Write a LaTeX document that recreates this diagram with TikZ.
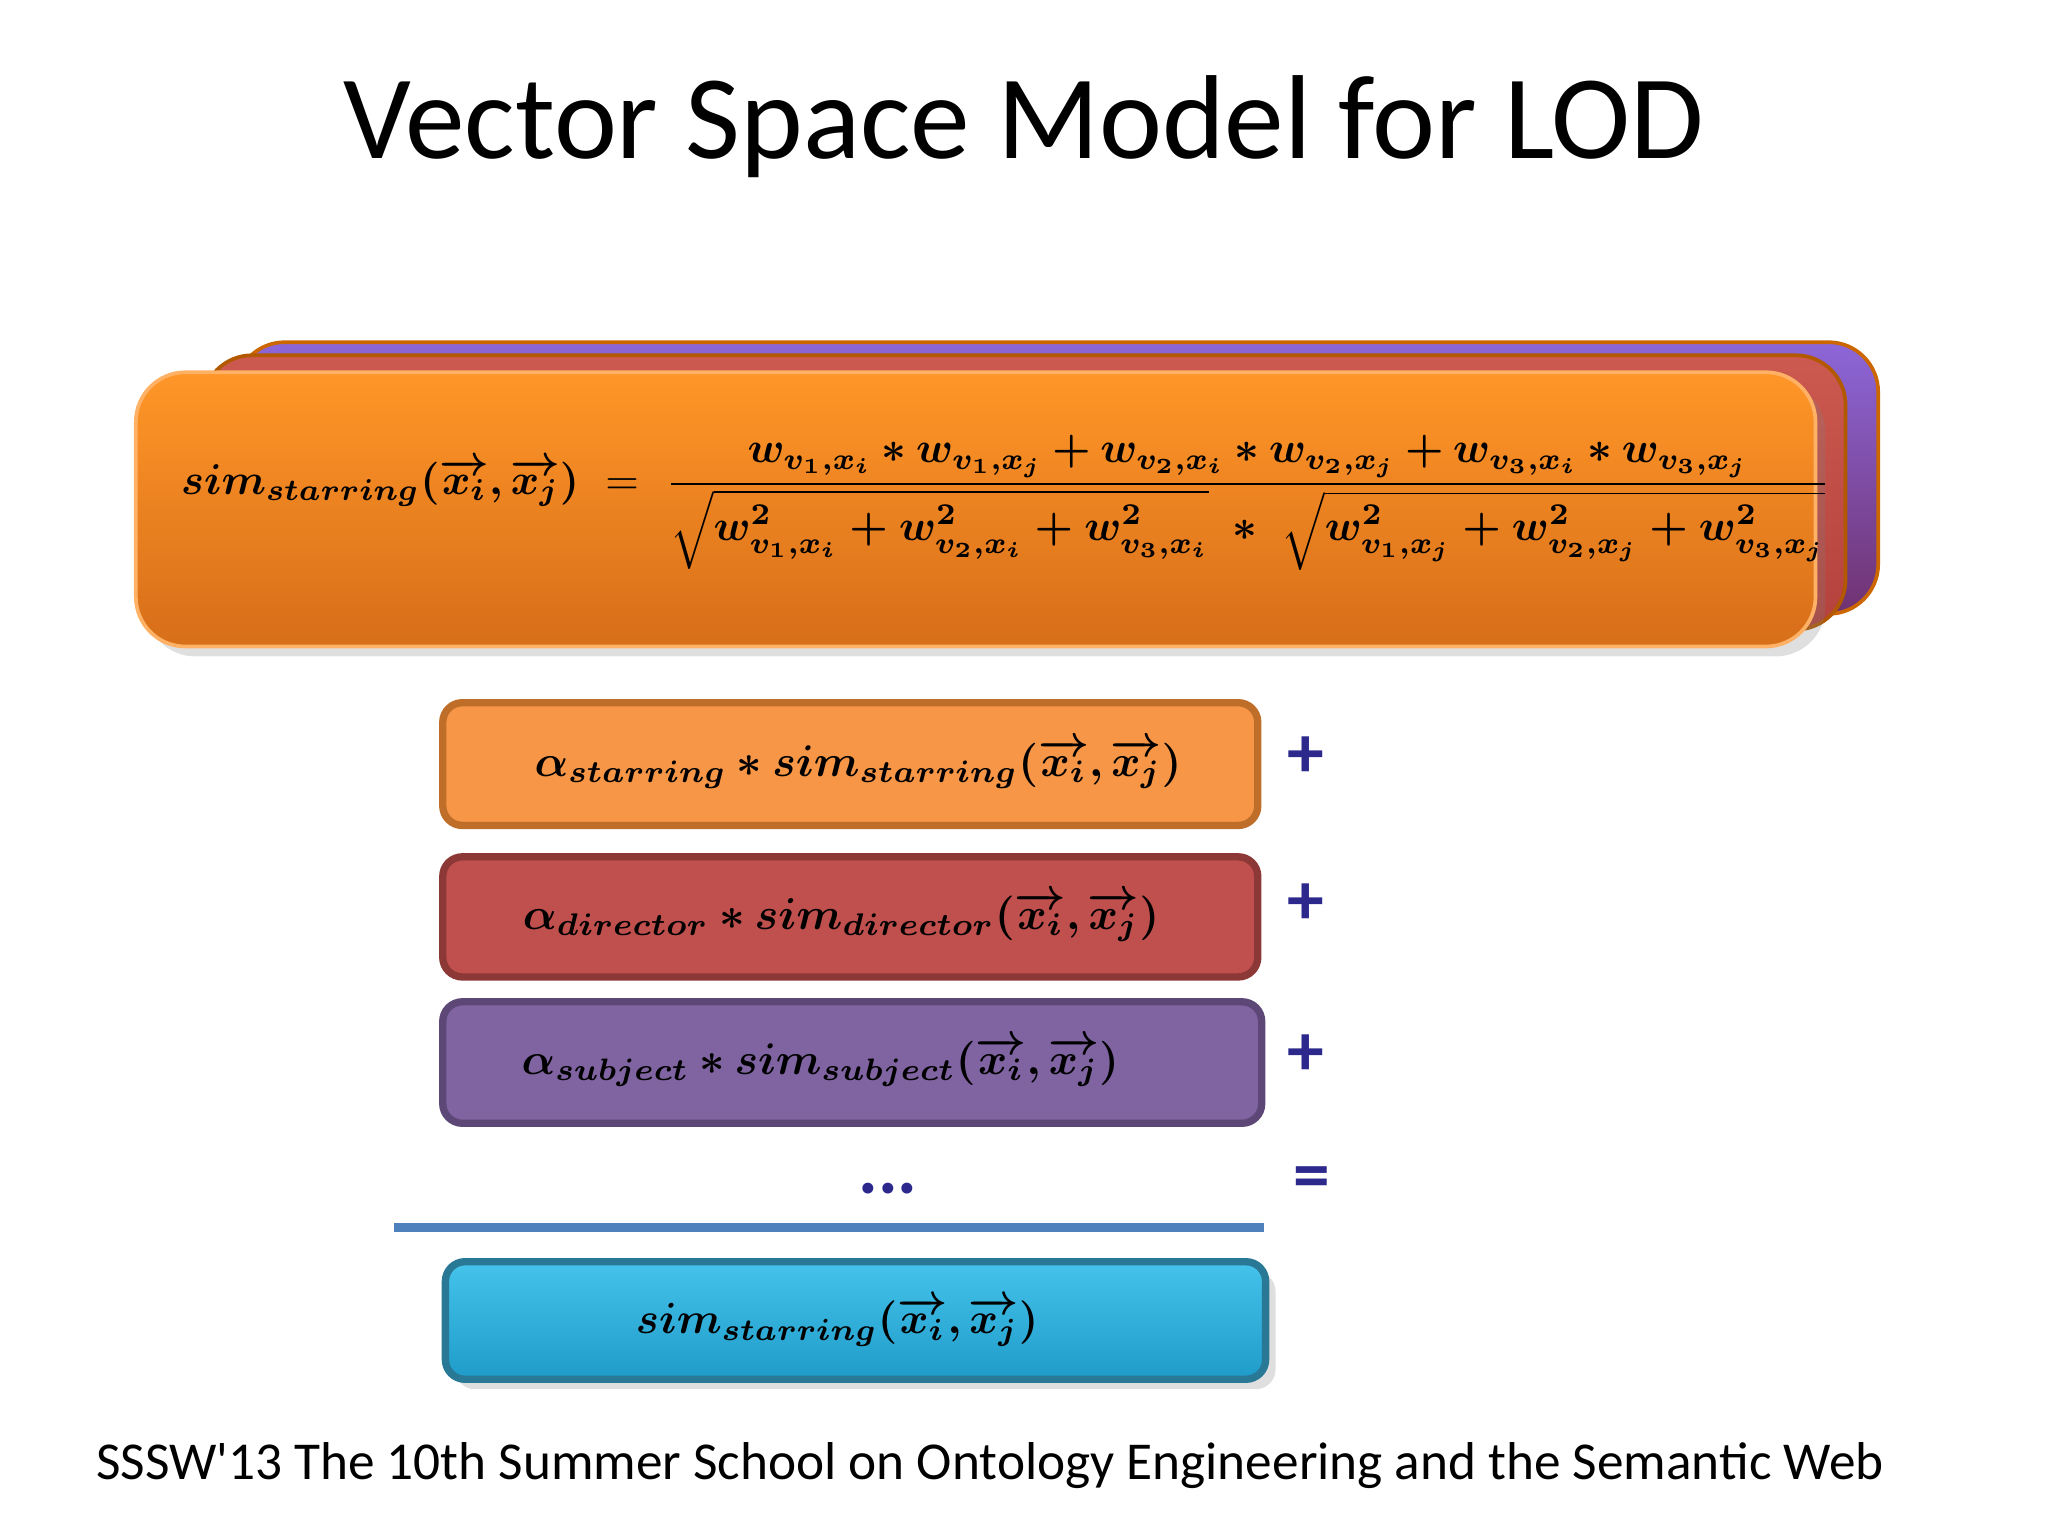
\documentclass[tikz,border=0pt]{standalone}
\usepackage{amsmath,bm}
\usepackage{fontspec}
\newfontfamily\carl{Carlito}
\usetikzlibrary{shadows}
\definecolor{ttl}{RGB}{45,40,140}
\tikzset{
 bigbox/.style={rounded corners=0.38cm,line width=0.8pt},
 smallbox/.style={rounded corners=0.15cm,line width=1.6pt},
 op/.style={text=ttl,font=\carl\bfseries\fontsize{16}{16}\selectfont}
}
\newcommand{\vx}[1]{\overrightarrow{x_{#1}}}
\begin{document}
\begin{tikzpicture}[x=0.01cm,y=-0.01cm]
\useasboundingbox (0,0) rectangle (1568,1176);
\node (title) at (784,97) {\carl\fontsize{26}{26}\selectfont Vector Space Model for LOD};
\draw[bigbox,draw=orange!80!black,top color=violet!50!blue!60!white,bottom color=violet!60!black!80,fill=violet!60] (180,262) rectangle (1438,470);
\shade[bigbox,draw=orange!70!black,top color={rgb,255:red,205;green,90;blue,80},bottom color={rgb,255:red,180;green,65;blue,60}] (155,272) rectangle (1413,482);
\draw[bigbox,draw=orange!60!white,top color={rgb,255:red,255;green,150;blue,40},bottom color={rgb,255:red,215;green,110;blue,25},drop shadow={opacity=0.25}] (104,285) rectangle (1390,495);
\node[anchor=west,inner sep=0pt] (eq) at (138,385) {\resizebox{12.62cm}{!}{$\bm{sim_{starring}(\vx{i},\vx{j})}\ =\ \dfrac{\bm{w_{v_1,x_i}*w_{v_1,x_j}+w_{v_2,x_i}*w_{v_2,x_j}+w_{v_3,x_i}*w_{v_3,x_j}}}{\bm{\sqrt{w^2_{v_1,x_i}+w^2_{v_2,x_i}+w^2_{v_3,x_i}}\ *\ \sqrt{w^2_{v_1,x_j}+w^2_{v_2,x_j}+w^2_{v_3,x_j}}}}$}};
\draw[smallbox,draw={rgb,255:red,190;green,110;blue,40},fill={rgb,255:red,246;green,150;blue,70}] (339,538) rectangle (963,632);
\node (s1) at (657,585) {\resizebox{4.95cm}{!}{$\bm{\alpha_{starring}*sim_{starring}(\vx{i},\vx{j})}$}};
\draw[smallbox,draw={rgb,255:red,140;green,56;blue,54},fill={rgb,255:red,192;green,80;blue,77}] (339,656) rectangle (963,748);
\node (s2) at (644,702) {\resizebox{4.87cm}{!}{$\bm{\alpha_{director}*sim_{director}(\vx{i},\vx{j})}$}};
\draw[smallbox,draw={rgb,255:red,92;green,71;blue,118},fill={rgb,255:red,128;green,100;blue,162}] (339,767) rectangle (966,860);
\node (s3) at (628,813) {\resizebox{4.57cm}{!}{$\bm{\alpha_{subject}*sim_{subject}(\vx{i},\vx{j})}$}};
\node[op] (dots) at (680,910) {...};
\draw[line width=2pt,color={rgb,255:red,79;green,129;blue,189}] (302,940) -- (968,940);
\draw[smallbox,draw={rgb,255:red,40;green,120;blue,150},top color={rgb,255:red,70;green,195;blue,235},bottom color={rgb,255:red,30;green,155;blue,200},drop shadow={opacity=0.25}] (341,966) rectangle (969,1056);
\node (res) at (641,1012) {\resizebox{3.08cm}{!}{$\bm{sim_{starring}(\vx{i},\vx{j})}$}};
\node[op] (p1) at (1000,580) {+};
\node[op] (p2) at (1000,692) {+};
\node[op] (p3) at (1000,808) {+};
\node[op] (eqs) at (1004,906) {=};
\node (foot) at (758,1122) {\carl\fontsize{11.6}{12}\selectfont SSSW'13 The 10th Summer School on Ontology Engineering and the Semantic Web};
\end{tikzpicture}
\end{document}
